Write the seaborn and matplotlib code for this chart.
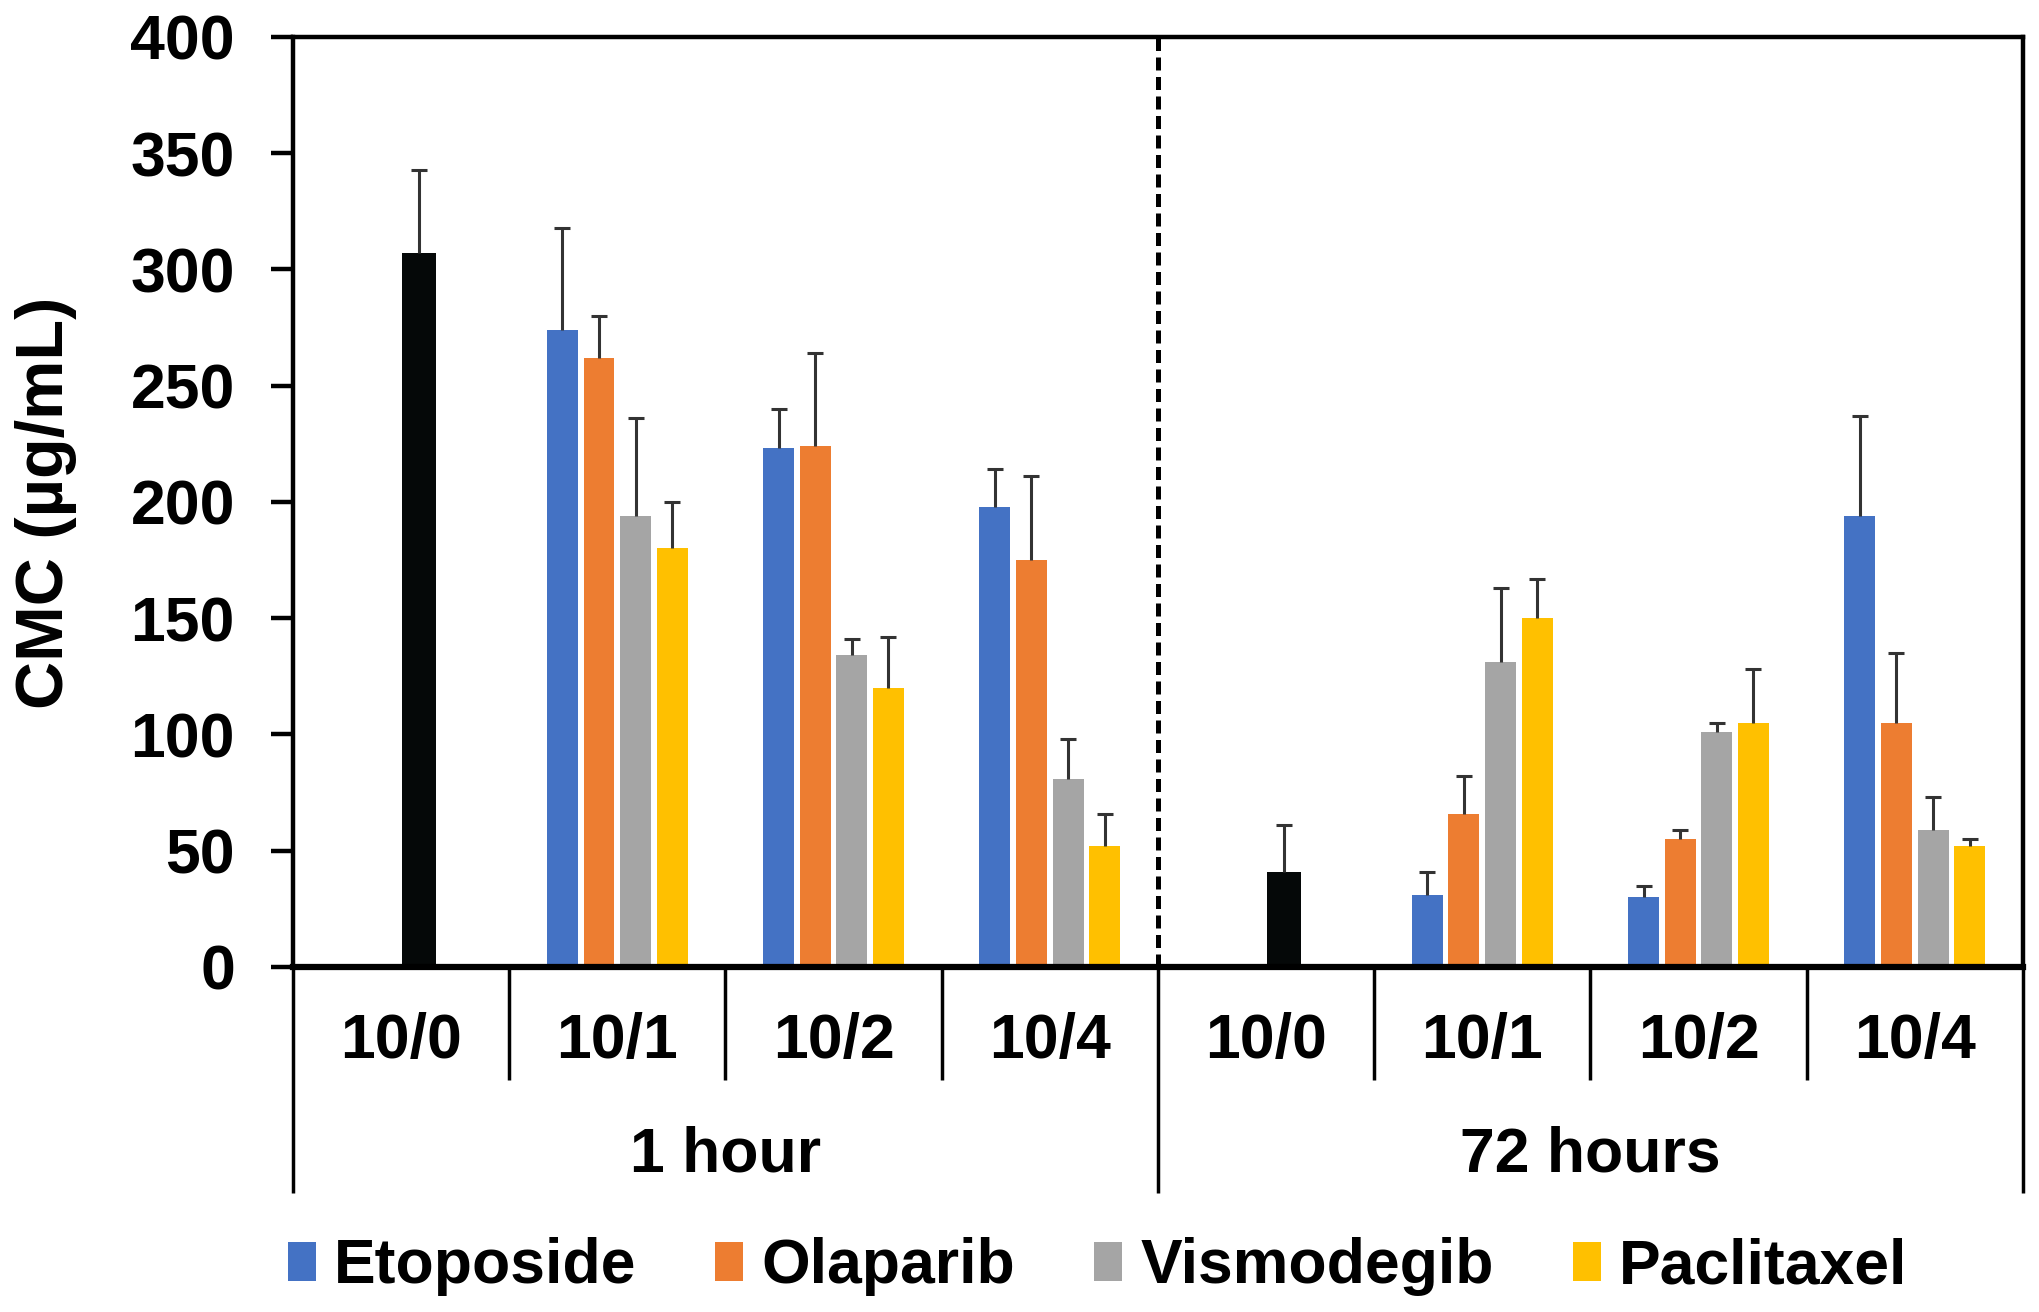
import numpy as np
import pandas as pd
import matplotlib
matplotlib.use("Agg")
import matplotlib.pyplot as plt
import matplotlib.transforms as mtransforms
from matplotlib.patches import Patch
import seaborn as sns

# --- data ---
ratios = ["10/0", "10/1", "10/2", "10/4"]
times = ["1 hour", "72 hours"]
drugs = ["Etoposide", "Olaparib", "Vismodegib", "Paclitaxel"]
colors = ["#4472C4", "#ED7D31", "#A5A5A5", "#FFC000"]
control_color = "#050808"

# 10/0 (no drug) bars, one per time point
control = [307, 41]
control_err = [36, 20]

# order: 1 hour 10/1, 10/2, 10/4, then 72 hours 10/1, 10/2, 10/4
etoposide = [274, 223, 198, 31, 30, 194]
etoposide_err = [44, 17, 16, 10, 5, 43]
olaparib = [262, 224, 175, 66, 55, 105]
olaparib_err = [18, 40, 36, 16, 4, 30]
vismodegib = [194, 134, 81, 131, 101, 59]
vismodegib_err = [42, 7, 17, 32, 4, 14]
paclitaxel = [180, 120, 52, 150, 105, 52]
paclitaxel_err = [20, 22, 14, 17, 23, 3]

series = {"Etoposide": (etoposide, etoposide_err),
          "Olaparib": (olaparib, olaparib_err),
          "Vismodegib": (vismodegib, vismodegib_err),
          "Paclitaxel": (paclitaxel, paclitaxel_err)}

# long table; the 10/0 bar sits in the third slot like in the original
rows = []
order = []
for ti, t in enumerate(times):
    for ri, r in enumerate(ratios):
        key = f"{t} {r}"
        order.append(key)
        if r == "10/0":
            rows.append({"slot": key, "drug": "Vismodegib", "cmc": control[ti],
                         "err": control_err[ti], "control": True})
        else:
            for d in drugs:
                vals, errs = series[d]
                rows.append({"slot": key, "drug": d, "cmc": vals[ti * 3 + ri - 1],
                             "err": errs[ti * 3 + ri - 1], "control": False})
df = pd.DataFrame(rows)

sns.set_style("white")
plt.rcParams["font.family"] = ["Liberation Sans", "DejaVu Sans"]
plt.rcParams["font.weight"] = "bold"
for k in ["text.color", "axes.labelcolor", "xtick.color", "ytick.color"]:
    plt.rcParams[k] = "black"

fig = plt.figure(figsize=(20.4, 13.12), dpi=100)
ax = fig.add_axes([0.1436, 0.263, 0.848, 0.7088])

sns.barplot(data=df, x="slot", y="cmc", hue="drug", order=order, hue_order=drugs,
            palette=colors, width=0.677, gap=0.154, errorbar=None, linewidth=0,
            saturation=1, legend=False, ax=ax)

# recolour the control bars, add one-sided error bars
ex, ey, ee = [], [], []
for cont, d in zip(ax.containers, drugs):
    for bar in cont:
        h = bar.get_height()
        if not np.isfinite(h) or h == 0:
            continue
        cx = bar.get_x() + bar.get_width() / 2
        key = order[int(round(cx))]
        rec = df[(df["slot"] == key) & (df["drug"] == d)].iloc[0]
        if rec["control"]:
            bar.set_facecolor(control_color)
            w = bar.get_width() * 1.1
            bar.set_width(w)
            bar.set_x(cx - w / 2)
        ex.append(cx)
        ey.append(h)
        ee.append(rec["err"])

_, caps, _ = ax.errorbar(ex, ey, yerr=[np.zeros(len(ee)), ee], fmt="none",
                         ecolor="#333333", elinewidth=2.2, capsize=6, capthick=2.2,
                         zorder=3)
# keep only the upper caps
for cap in caps:
    if np.allclose(cap.get_ydata(), ey):
        cap.set_visible(False)

ax.axvline(3.5, color="black", lw=3.6, ls=(0, (2.6, 1.3)), zorder=4)

ax.set_xlim(-0.5, 7.5)
ax.set_ylim(0, 400)
ax.set_yticks(range(0, 401, 50))
ax.set_xticks([])
ax.set_xlabel("")
ax.set_ylabel("")
ax.tick_params(axis="y", direction="out", length=15.8, width=3.2, pad=26,
               labelsize=45, left=True, colors="black")
for lab in ax.get_yticklabels():
    lab.set_fontweight("bold")
for side in ["left", "right", "top"]:
    ax.spines[side].set_linewidth(3.2)
    ax.spines[side].set_color("black")
ax.spines["bottom"].set_linewidth(4.5)
ax.spines["bottom"].set_color("black")

fig.text(0.0225, 0.617, "CMC (µg/mL)", rotation=90, ha="center", va="center",
         fontsize=48, fontweight="bold", color="black")

# two-level category axis
trans = mtransforms.blended_transform_factory(ax.transData, fig.transFigure)
y_axis = 0.263
for i, key in enumerate(order):
    ax.text(i, 0.2058, ratios[i % 4], transform=trans, ha="center", va="center",
            fontsize=45, fontweight="bold", color="black")
for gi, t in enumerate(times):
    ax.text(1.5 + 4 * gi, 0.1197, t, transform=trans, ha="center", va="center",
            fontsize=45, fontweight="bold", color="black")
for xs in [0.5, 1.5, 2.5, 4.5, 5.5, 6.5]:
    ax.plot([xs, xs], [y_axis, 0.1768], transform=trans, color="black", lw=2.5,
            clip_on=False, solid_capstyle="butt")
for xs in [-0.5, 3.5, 7.5]:
    ax.plot([xs, xs], [y_axis, 0.0907], transform=trans, color="black", lw=2.5,
            clip_on=False, solid_capstyle="butt")

handles = [Patch(facecolor=c, edgecolor="none", label=d) for d, c in zip(drugs, colors)]
fig.legend(handles=handles, loc="center", bbox_to_anchor=(0.538, 0.0343), ncol=4,
           frameon=False, prop={"size": 45, "weight": "bold"}, handlelength=0.45,
           handleheight=0.6, handletextpad=0.29, columnspacing=1.26,
           labelcolor="black")

fig.savefig("out.png", dpi=100)
